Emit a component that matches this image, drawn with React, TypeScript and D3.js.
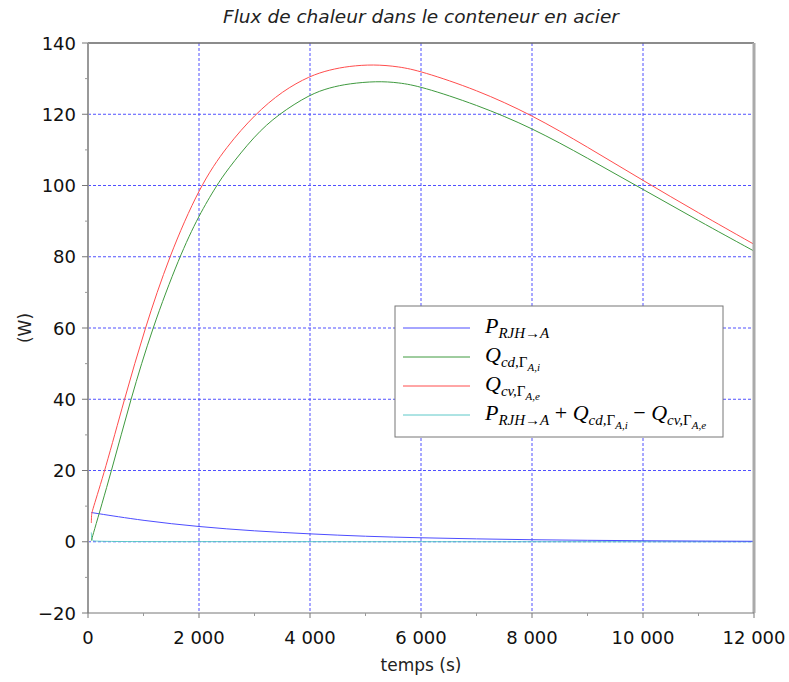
import React from "react";
import * as d3 from "d3";

const title = "Flux de chaleur dans le conteneur en acier";
const xLabel = "temps (s)";
const yLabel = "(W)";

const xTicks = [0, 2000, 4000, 6000, 8000, 10000, 12000];
const xMinorTicks = [1000, 3000, 5000, 7000, 9000, 11000];
const yTicks = [-20, 0, 20, 40, 60, 80, 100, 120, 140];
const yMinorTicks = [-10, 10, 30, 50, 70, 90, 110, 130];

// P_{RJH->A}
const pTime = [60, 1000, 2000, 3000, 4000, 5000, 6000, 7000, 8000, 9000, 10000, 11000, 12000];
const pValues = [8.2, 5.9, 4.2, 3.0, 2.2, 1.5, 1.1, 0.8, 0.55, 0.4, 0.28, 0.2, 0.13];

// Q_cd
const qcdTime = [60, 62, 427, 769, 1159, 1646, 2000, 2318, 2500, 3000, 3430, 4000, 4360, 4700, 5200, 5600, 6000, 7000, 8000, 9000, 10000, 11000, 12000];
const qcdValues = [0.3, 0.5, 20, 40, 60, 80, 91.7, 100, 104.2, 114.0, 120, 125.6, 127.5, 128.6, 129.3, 128.9, 127.8, 122.7, 116.2, 107.7, 98.9, 90.1, 81.6];

// Q_cv
const qcvTime = [60, 64, 68, 306, 655, 1027, 1459, 2018, 2500, 3009, 3500, 4000, 4360, 4700, 5141, 5600, 6000, 7000, 8000, 9000, 10000, 11000, 12000];
const qcvValues = [5.3, 7.5, 8.3, 20, 40, 60, 80, 100, 111, 120, 126.5, 130.8, 132.5, 133.5, 134, 133.4, 132.1, 126.9, 119.8, 110.8, 101.4, 92.3, 83.5];

// Sum
const sumTime = [60, 62, 70, 120, 2000, 4000, 6000, 8000, 10000, 12000];
const sumValues = [2.6, 2.0, 0.3, 0.05, 0.03, 0.02, 0.01, 0.0, 0.0, 0.0];

const W = 789;
const H = 682;
const L = 88, R = 754, T = 43, B = 613;

const fmtLocale = d3.formatLocale({ decimal: ",", thousands: " ", grouping: [3], currency: ["", ""], minus: "\u2212" });
const fmt = fmtLocale.format(",d");

type Seg = { t: string; lvl: number; it?: boolean };

const sizes = [22, 15, 11];
const offs = [0, 5, 9];

function MathText({ x, y, segs }: { x: number; y: number; segs: Seg[] }) {
  let prev = 0;
  return (
    <text x={x} y={y} fontFamily="'Liberation Serif', serif" fill="#000">
      {segs.map((s, i) => {
        const dy = offs[s.lvl] - offs[prev];
        prev = s.lvl;
        return (
          <tspan key={i} dy={dy} fontSize={sizes[s.lvl]} fontStyle={s.it === false ? "normal" : "italic"}>
            {s.t}
          </tspan>
        );
      })}
    </text>
  );
}

const segP: Seg[] = [{ t: "P", lvl: 0 }, { t: "RJH\u2192A", lvl: 1 }];
const segQcd: Seg[] = [{ t: "Q", lvl: 0 }, { t: "cd,", lvl: 1 }, { t: "\u0393", lvl: 1, it: false }, { t: "A,i", lvl: 2 }];
const segQcv: Seg[] = [{ t: "Q", lvl: 0 }, { t: "cv,", lvl: 1 }, { t: "\u0393", lvl: 1, it: false }, { t: "A,e", lvl: 2 }];
const segSum: Seg[] = [
  ...segP,
  { t: " + ", lvl: 0, it: false },
  ...segQcd,
  { t: " \u2212 ", lvl: 0, it: false },
  ...segQcv,
];

export default function App() {
  const x = d3.scaleLinear().domain([0, 12000]).range([L, R]);
  const y = d3.scaleLinear().domain([-20, 140]).range([B, T]);
  const line = (ts: number[], vs: number[]) =>
    d3
      .line<number>()
      .x((_, i) => x(ts[i]))
      .y((v) => y(v))
      .curve(d3.curveBasis)(vs) || "";

  const series = [
    { ts: pTime, vs: pValues, color: "#4d4dff", segs: segP },
    { ts: qcdTime, vs: qcdValues, color: "#3f9a3f", segs: segQcd },
    { ts: qcvTime, vs: qcvValues, color: "#ff4d4d", segs: segQcv },
    { ts: sumTime, vs: sumValues, color: "#5cc8c8", segs: segSum },
  ];
  const drawOrder = [3, 0, 1, 2];

  const gridColor = "#5050ff";
  const lx = 395, ly = 306, lw = 328, lh = 131;
  const rowY = [328, 357, 386, 415];

  return (
    <svg width={W} height={H} style={{ position: "absolute", left: 0, top: 0, background: "#fff" }}>
      <rect x={0} y={0} width={W} height={H} fill="#fff" />
      <text x={(L + R) / 2} y={23} textAnchor="middle" fontFamily="'DejaVu Sans', sans-serif" fontStyle="italic" fontSize={18.5} fill="#222">
        {title}
      </text>
      {/* grid */}
      {xTicks.filter((t) => t > 0 && t < 12000).map((t) => (
        <line key={"gx" + t} x1={x(t)} x2={x(t)} y1={T} y2={B} stroke={gridColor} strokeWidth={1} strokeDasharray="3,2" />
      ))}
      {yTicks.filter((t) => t > -20 && t < 140).map((t) => (
        <line key={"gy" + t} x1={L} x2={R} y1={y(t)} y2={y(t)} stroke={gridColor} strokeWidth={1} strokeDasharray="3,2" />
      ))}
      {/* series */}
      {drawOrder.map((i) => (
        <path key={"s" + i} d={line(series[i].ts, series[i].vs)} fill="none" stroke={series[i].color} strokeWidth={1} />
      ))}
      {/* frame */}
      <line x1={L} x2={R} y1={T} y2={T} stroke="#666" strokeWidth={1.5} />
      <line x1={R} x2={R} y1={T} y2={B} stroke="#aaa" strokeWidth={3} />
      <line x1={L} x2={L} y1={T} y2={B} stroke="#999" strokeWidth={2} />
      <line x1={L} x2={R} y1={B} y2={B} stroke="#777" strokeWidth={1} />
      {/* x ticks */}
      {xTicks.map((t) => (
        <g key={"xt" + t}>
          <line x1={x(t)} x2={x(t)} y1={B} y2={B + 5} stroke="#777" />
          <text x={x(t)} y={644} textAnchor="middle" fontFamily="'DejaVu Sans', sans-serif" fontSize={18} fill="#111">
            {fmt(t)}
          </text>
        </g>
      ))}
      {xMinorTicks.map((t) => (
        <line key={"xm" + t} x1={x(t)} x2={x(t)} y1={B} y2={B + 3} stroke="#999" />
      ))}
      {/* y ticks */}
      {yTicks.map((t) => (
        <g key={"yt" + t}>
          <line x1={L - 6} x2={L} y1={y(t)} y2={y(t)} stroke="#777" />
          <text x={76} y={y(t) + 6.5} textAnchor="end" fontFamily="'DejaVu Sans', sans-serif" fontSize={18} fill="#111">
            {fmt(t)}
          </text>
        </g>
      ))}
      {yMinorTicks.map((t) => (
        <line key={"ym" + t} x1={L - 3} x2={L} y1={y(t)} y2={y(t)} stroke="#999" />
      ))}
      <text x={(L + R) / 2} y={671} textAnchor="middle" fontFamily="'DejaVu Sans', sans-serif" fontSize={17} fill="#222">
        {xLabel}
      </text>
      <text transform={`translate(31,${(T + B) / 2}) rotate(-90)`} textAnchor="middle" fontFamily="'DejaVu Sans', sans-serif" fontSize={17} fill="#222">
        {yLabel}
      </text>
      {/* legend */}
      <rect x={lx} y={ly} width={lw} height={lh} fill="#fff" stroke="#777" strokeWidth={1} />
      {series.map((s, i) => (
        <g key={"lg" + i}>
          <line x1={403} x2={470} y1={rowY[i]} y2={rowY[i]} stroke={s.color} strokeWidth={1} />
          <MathText x={485} y={rowY[i] + 5} segs={s.segs} />
        </g>
      ))}
    </svg>
  );
}
